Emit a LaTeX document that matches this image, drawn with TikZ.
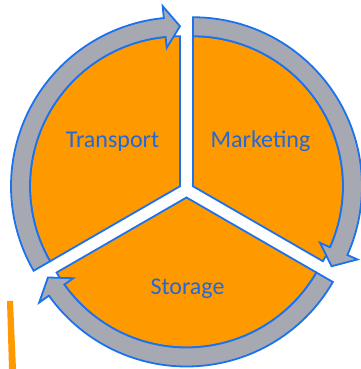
\documentclass[tikz,border=0pt]{standalone}
\usepackage{fontspec}
\setmainfont{Carlito}
\definecolor{pieorange}{HTML}{FF9900}
\definecolor{edgeblue}{HTML}{1A72F0}
\definecolor{textblue}{HTML}{2468D8}
\definecolor{ringgray}{HTML}{A6A9B1}
\tikzset{
  sector/.style={fill=pieorange, draw=edgeblue, line width=1.8pt, line join=miter},
  ring/.style={fill=ringgray, draw=edgeblue, line width=1.8pt, line join=miter},
  lbl/.style={text=textblue, font=\fontsize{24}{28}\selectfont, inner sep=0pt, anchor=base}
}
\begin{document}
\begin{tikzpicture}[x=1pt,y=1pt]
\useasboundingbox (0,0) rectangle (360,369);
% centres of the exploded sectors
\coordinate (ct) at (180,182.75);
\coordinate (cm) at (193,182.75);
\coordinate (cs) at (186.5,171.5);
% orange sectors
\draw[sector,shift={(ct)}] (0,0) -- (90:150) arc[start angle=90, end angle=210, radius=150] -- cycle;
\draw[sector,shift={(cm)}] (0,0) -- (-30:150) arc[start angle=-30, end angle=90, radius=150] -- cycle;
\draw[sector,shift={(cs)}] (0,0) -- (210:150) arc[start angle=210, end angle=330, radius=150] -- cycle;
% arrow rings (clockwise)
\draw[ring,shift={(ct)}] (210:169) arc[start angle=210, end angle=95.5, radius=169]
  -- (95.5:181) -- (90:160) -- (95.5:139) -- (95.5:150)
  arc[start angle=95.5, end angle=210, radius=150] -- cycle;
\draw[ring,shift={(cm)}] (90:169) arc[start angle=90, end angle=-24, radius=169]
  -- (-24:180) -- (-30:160) -- (-24:139) -- (-24:150)
  arc[start angle=-24, end angle=90, radius=150] -- cycle;
\draw[ring,shift={(cs)}] (330:169) arc[start angle=330, end angle=215.5, radius=169]
  -- (215.5:181) -- (210:160) -- (215.5:139) -- (215.5:150)
  arc[start angle=215.5, end angle=330, radius=150] -- cycle;
% labels
\node[lbl] (transport) at (112.5,221) {Transport};
\node[lbl] (marketing) at (260.5,221) {Marketing};
\node[lbl] (storage) at (187.5,74) {Storage};
% small orange bar
\fill[pieorange] (7,68) -- (13,68) -- (16,0) -- (9,0) -- cycle;
\end{tikzpicture}
\end{document}
